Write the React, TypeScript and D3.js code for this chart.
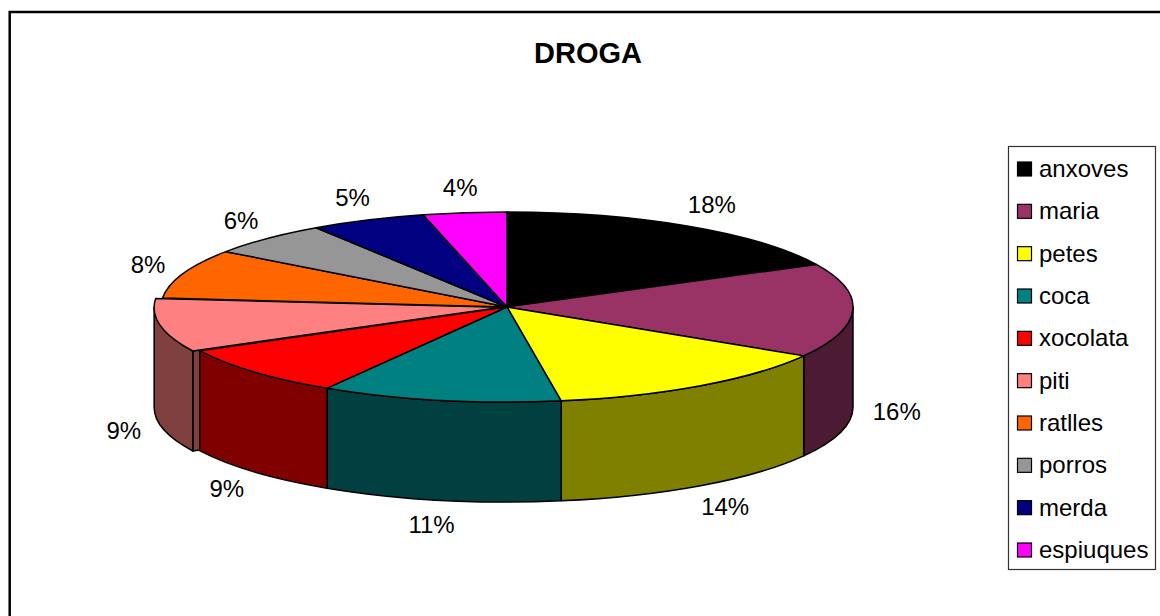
import React from 'react';
import * as d3 from 'd3';

// slice names, shares and Excel colours
const CATEGORIES = ['anxoves', 'maria', 'petes', 'coca', 'xocolata', 'piti', 'ratlles', 'porros', 'merda', 'espiuques'];
const VALUES = [17.6, 16.0, 13.9, 11.2, 8.7, 9.1, 8.4, 5.8, 5.4, 3.9];
const COLORS = ['#000000', '#993366', '#ffff00', '#008080', '#ff0000', '#ff8080', '#ff6600', '#969696', '#000080', '#ff00ff'];
const TITLE = 'DROGA';
const EXPLODED = 'piti';

const W = 1160;
const H = 616;
const CX = 507;
const CY = 307;
const RX = 346;
const RY = 95;
const DEPTH = 100;
const EXPLODE = 7;
const FONT = '"Liberation Sans", Arial, sans-serif';
const LABEL_SIZE = 24;

const half = (c: string) => {
  const r = d3.rgb(c);
  return d3.rgb(r.r * 0.5, r.g * 0.5, r.b * 0.5).formatHex();
};

function App() {
  const total = d3.sum(VALUES);
  const fmt = d3.format('.0%');
  const arcs = d3
    .pie<number>()
    .sort(null)
    .value((d) => d)(VALUES);

  const slices = arcs.map((a, i) => {
    const mid = (a.startAngle + a.endAngle) / 2;
    const ex = CATEGORIES[i] === EXPLODED ? EXPLODE : 0;
    const ox = ex * Math.sin(mid);
    const oy = -ex * (RY / RX) * Math.cos(mid);
    const P = (t: number, dz = 0) =>
      `${(CX + ox + RX * Math.sin(t)).toFixed(2)},${(CY + oy - RY * Math.cos(t) + dz).toFixed(2)}`;
    const C = (dz = 0) => `${(CX + ox).toFixed(2)},${(CY + oy + dz).toFixed(2)}`;
    const large = a.endAngle - a.startAngle > Math.PI ? 1 : 0;
    const top = `M${C()} L${P(a.startAngle)} A${RX},${RY} 0 ${large} 1 ${P(a.endAngle)} Z`;

    // outer wall, only the front half is seen
    const s = Math.max(a.startAngle, Math.PI / 2);
    const e = Math.min(a.endAngle, (3 * Math.PI) / 2);
    const wall =
      e > s
        ? `M${P(s)} A${RX},${RY} 0 0 1 ${P(e)} L${P(e, DEPTH)} A${RX},${RY} 0 0 0 ${P(s, DEPTH)} Z`
        : null;
    // cut face of an exploded slice
    const face = ex ? `M${C()} L${P(a.startAngle)} L${P(a.startAngle, DEPTH)} L${C(DEPTH)} Z` : null;

    // label
    const sn = Math.sin(mid);
    const cs = Math.cos(mid);
    const text = fmt(VALUES[i] / total);
    const digits = text.length - 1;
    const tw = (digits * 0.556 + 0.889) * LABEL_SIZE;
    const ax = CX + ox + (RX + 20) * sn;
    const ay = CY + oy - (RY + 14) * cs + (cs < 0 ? DEPTH : 0);
    const lx = ax + (tw / 2) * sn;
    const ly = ay - 11 * cs + 8.5;

    return { i, top, wall, face, color: COLORS[i], side: half(COLORS[i]), text, lx, ly, ex };
  });

  const stroke = { stroke: '#000', strokeWidth: 1.5, strokeLinejoin: 'round' as const };
  const rowY = d3.scaleLinear().domain([0, CATEGORIES.length - 1]).range([177, 558]);

  return (
    <svg
      width={W}
      height={H}
      viewBox={`0 0 ${W} ${H}`}
      style={{ position: 'absolute', left: 0, top: 0, background: '#fff' }}
      fontFamily={FONT}
    >
      <rect x={0} y={0} width={W} height={H} fill="#fff" />
      <rect x={9.7} y={12} width={W + 20} height={H + 20} fill="none" stroke="#000" strokeWidth={2.5} />

      <text x={588} y={63} textAnchor="middle" fontSize={29} fontWeight="bold">
        {TITLE}
      </text>

      {/* exploded slice sides first, then the other walls, then the tops */}
      <g>
        {slices
          .filter((d) => d.ex)
          .map((d) => (
            <g key={`ex${d.i}`}>
              {d.face && <path d={d.face} fill={d.side} {...stroke} />}
              {d.wall && <path d={d.wall} fill={d.side} {...stroke} />}
            </g>
          ))}
        {slices
          .filter((d) => !d.ex && d.wall)
          .map((d) => (
            <path key={`wall${d.i}`} d={d.wall as string} fill={d.side} {...stroke} />
          ))}
      </g>
      <g>
        {slices.map((d) => (
          <path key={`top${d.i}`} d={d.top} fill={d.color} {...stroke} />
        ))}
      </g>

      <g fontSize={LABEL_SIZE} textAnchor="middle">
        {slices.map((d) => (
          <text key={`lab${d.i}`} x={d.lx} y={d.ly}>
            {d.text}
          </text>
        ))}
      </g>

      <g>
        <rect x={1008.5} y={146.5} width={147} height={423} fill="#fff" stroke="#333" strokeWidth={1.2} />
        {CATEGORIES.map((c, i) => (
          <g key={c}>
            <rect x={1017.5} y={rowY(i) - 15} width={14} height={14} fill={COLORS[i]} stroke="#000" strokeWidth={1.2} />
            <text x={1039} y={rowY(i)} fontSize={24}>
              {c}
            </text>
          </g>
        ))}
      </g>
    </svg>
  );
}

export default App;
